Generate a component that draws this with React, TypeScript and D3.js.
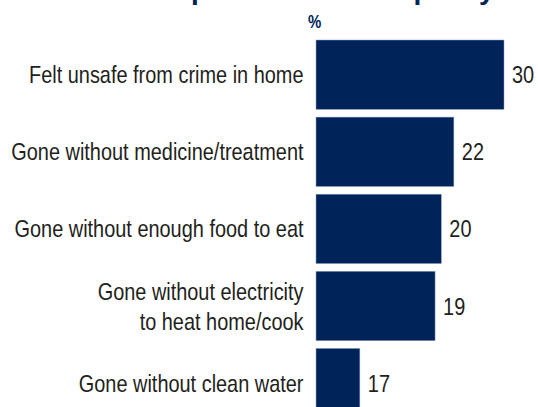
import React from "react";
import * as d3 from "d3";

const categories: string[][] = [
  ["Felt unsafe from crime in home"],
  ["Gone without medicine/treatment"],
  ["Gone without enough food to eat"],
  ["Gone without electricity", "to heat home/cook"],
  ["Gone without clean water"],
];
const barValues: number[] = [30, 22, 20, 19, 7];
const valueLabels: string[] = ["30", "22", "20", "19", "17"];
const titleText = "Issues experienced in the past year";
const unitLabel = "%";

const W = 538;
const H = 407;
const NAVY = "#00245a";
const TEXT = "#231f20";
const SX = 0.83;

export default function App() {
  const keys = categories.map((c) => c.join(" "));
  const x = d3.scaleLinear().domain([0, 30]).range([316, 504]);
  const y = d3
    .scaleBand<string>()
    .domain(keys)
    .range([40, 417.8])
    .paddingInner(0.1)
    .paddingOuter(0);
  const bw = y.bandwidth();
  const fs = 24;
  const lineH = 30;
  const capHalf = fs * 0.716 * 0.5;

  return (
    <svg
      width={W}
      height={H}
      style={{ position: "absolute", left: 0, top: 0, background: "#fff" }}
      fontFamily="'Liberation Sans', Arial, sans-serif"
    >
      <rect x={0} y={0} width={W} height={H} fill="#fff" />
      <text x={65} y={-1.5} fontSize={28} fontWeight="bold" fill={NAVY}>
        {titleText}
      </text>
      <text
        transform={`translate(308,28) scale(${SX},1)`}
        fontSize={18}
        fontWeight="bold"
        fill={NAVY}
      >
        {unitLabel}
      </text>
      {keys.map((k, i) => {
        const y0 = y(k)!;
        const cy = y0 + bw / 2;
        const lines = categories[i];
        const firstBase = cy + capHalf - ((lines.length - 1) * lineH) / 2;
        const xe = x(barValues[i]);
        return (
          <g key={k}>
            <rect
              x={x(0)}
              y={y0}
              width={xe - x(0)}
              height={bw}
              fill={NAVY}
              stroke="#8da2c4"
              strokeWidth={0.5}
            />
            {lines.map((ln, j) => (
              <text
                key={j}
                transform={`translate(303.5,${firstBase + j * lineH}) scale(${SX},1)`}
                textAnchor="end"
                fontSize={fs}
                fill={TEXT}
              >
                {ln}
              </text>
            ))}
            <text
              transform={`translate(${xe + 8},${cy + capHalf}) scale(${SX},1)`}
              fontSize={fs}
              fill={TEXT}
            >
              {valueLabels[i]}
            </text>
          </g>
        );
      })}
    </svg>
  );
}
